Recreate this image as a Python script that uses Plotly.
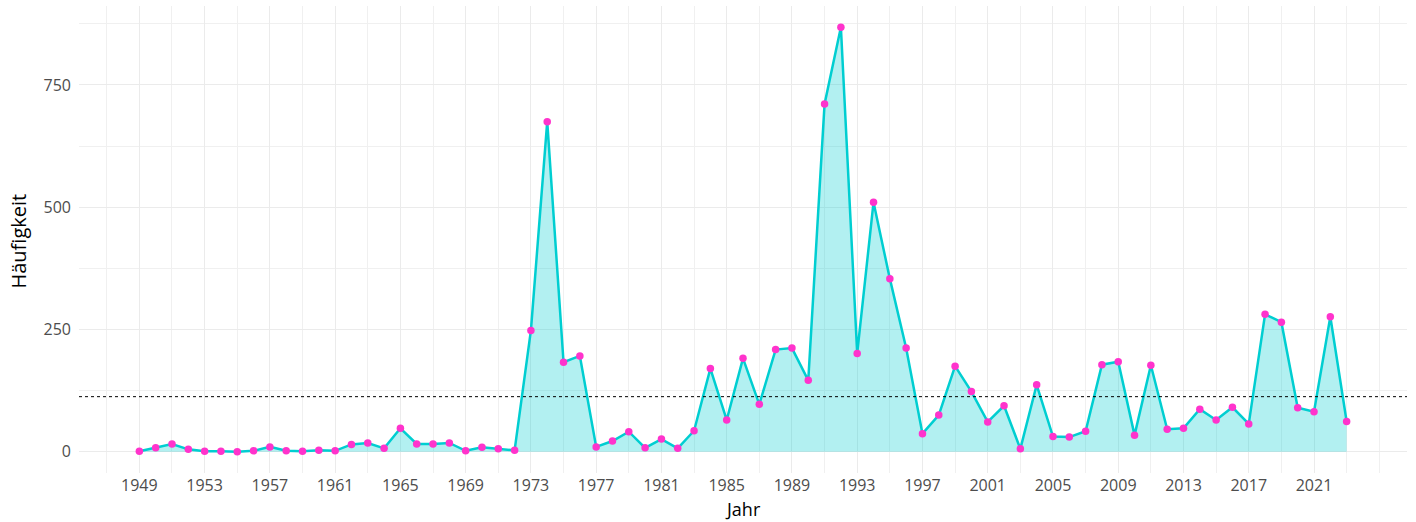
import plotly.graph_objects as go

years = list(range(1949, 2024))
counts = [1, 8, 16, 5, 1, 1, 0, 2, 10, 2, 1, 3, 2, 15, 18, 7, 48, 16, 16, 18, 2, 9, 6, 3,
          248, 675, 183, 196, 10, 22, 41, 8, 26, 7, 43, 170, 65, 191, 97, 209, 212, 146,
          711, 868, 201, 510, 354, 212, 37, 75, 175, 123, 61, 94, 6, 137, 31, 30, 42, 178, 184, 34,
          177, 46, 48, 87, 65, 91, 57, 281, 265, 90, 82, 276, 62]
x_ticks = list(range(1949, 2022, 4))
y_ticks = [0, 250, 500, 750]

mean_val = sum(counts) / len(counts)

fig = go.Figure()
fig.add_trace(go.Scatter(
    x=years, y=counts, mode="lines", fill="tozeroy",
    fillcolor="rgba(0,206,209,0.30)",
    line=dict(color="#00CED1", width=2.5),
    hoverinfo="skip", showlegend=False))
fig.add_trace(go.Scatter(
    x=years, y=counts, mode="markers",
    marker=dict(color="#FF33CC", size=7.5),
    showlegend=False))
fig.add_shape(type="line", xref="paper", x0=0, x1=1, yref="y", y0=mean_val, y1=mean_val,
              line=dict(color="black", width=1, dash="dot"), layer="above")

xr = [1949 - 0.05 * 74, 2023 + 0.05 * 74]
yr = [-0.05 * 868, 868 * 1.05]

fig.update_layout(
    width=1416, height=522,
    margin=dict(l=79, r=9, t=6, b=49),
    plot_bgcolor="white", paper_bgcolor="white",
    font=dict(family="Open Sans, sans-serif", size=16, color="#4D4D4D"),
    xaxis=dict(range=xr, tickmode="array", tickvals=x_ticks,
               ticktext=[str(v) for v in x_ticks],
               showgrid=True, gridcolor="#EBEBEB", gridwidth=1, zeroline=False,
               ticks="", tickfont=dict(size=16, color="#4D4D4D"),
               automargin=False, ticklabelstandoff=1,
               minor=dict(tickmode="linear", tick0=1947, dtick=2, showgrid=True,
                          gridcolor="#F0F0F0", gridwidth=1)),
    yaxis=dict(range=yr, tickmode="array", tickvals=y_ticks,
               showgrid=True, gridcolor="#EBEBEB", gridwidth=1, zeroline=False,
               ticks="", tickfont=dict(size=16, color="#4D4D4D"),
               automargin=False, ticklabelstandoff=7,
               minor=dict(tickmode="linear", tick0=125, dtick=250, showgrid=True,
                          gridcolor="#F0F0F0", gridwidth=1)),
    annotations=[
        dict(text="Jahr", xref="paper", yref="paper", x=0.5, y=0,
             xanchor="center", yanchor="bottom", yshift=-49, showarrow=False,
             borderpad=0, font=dict(size=18, color="black")),
        dict(text="Häufigkeit", xref="paper", yref="paper", x=0, y=0.5,
             xanchor="center", yanchor="middle", xshift=-61, yshift=-2,
             textangle=-90, showarrow=False,
             font=dict(size=20, color="black")),
    ],
)

fig.write_html("out.html", config={"displayModeBar": False},
               post_script="document.body.style.margin='0';")
